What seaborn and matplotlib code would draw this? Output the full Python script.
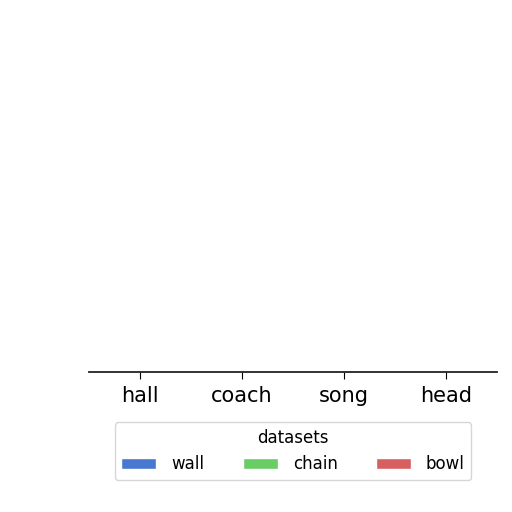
import numpy as np
import matplotlib
matplotlib.use("Agg")
import matplotlib.pyplot as plt
import pandas as pd
import seaborn as sns

# categories and series (no bar rises above the baseline in the picture)
categories = ["hall", "coach", "song", "head"]
wall = [0, 0, 0, 0]
chain = [0, 0, 0, 0]
bowl = [0, 0, 0, 0]
series_names = ["wall", "chain", "bowl"]

df = pd.DataFrame({
    "category": categories * 3,
    "value": wall + chain + bowl,
    "datasets": [n for n in series_names for _ in categories],
})

sns.set_style("ticks")
plt.rcParams['font.family'] = ['DejaVu Sans']
plt.rcParams['text.color'] = 'black'
plt.rcParams['xtick.color'] = 'black'

muted = sns.color_palette("muted")
colors = {"wall": muted[0], "chain": muted[2], "bowl": muted[3]}

fig = plt.figure(figsize=(5.12, 5.12), dpi=100)
ax = fig.add_axes([0.174, 0.273, 0.797, 0.69])

sns.barplot(data=df, x="category", y="value", hue="datasets", saturation=1,
            palette=colors, ax=ax, order=categories, hue_order=series_names)

ax.set_ylim(0, 1)
ax.set_xlabel("")
ax.set_ylabel("")
ax.set_yticks([])
sns.despine(ax=ax, left=True, top=True, right=True)
ax.spines["bottom"].set_linewidth(1.3)
ax.spines["bottom"].set_color("#222222")
ax.tick_params(axis="x", labelsize=15, length=5, pad=5, labelcolor="black")

leg = ax.legend(title="datasets", loc="upper center", bbox_to_anchor=(0.5, -0.118),
                ncol=3, fontsize=12, title_fontsize=12, frameon=True,
                handlelength=2.1, columnspacing=2.3, handletextpad=0.9)

fig.savefig("out.png", dpi=100)
